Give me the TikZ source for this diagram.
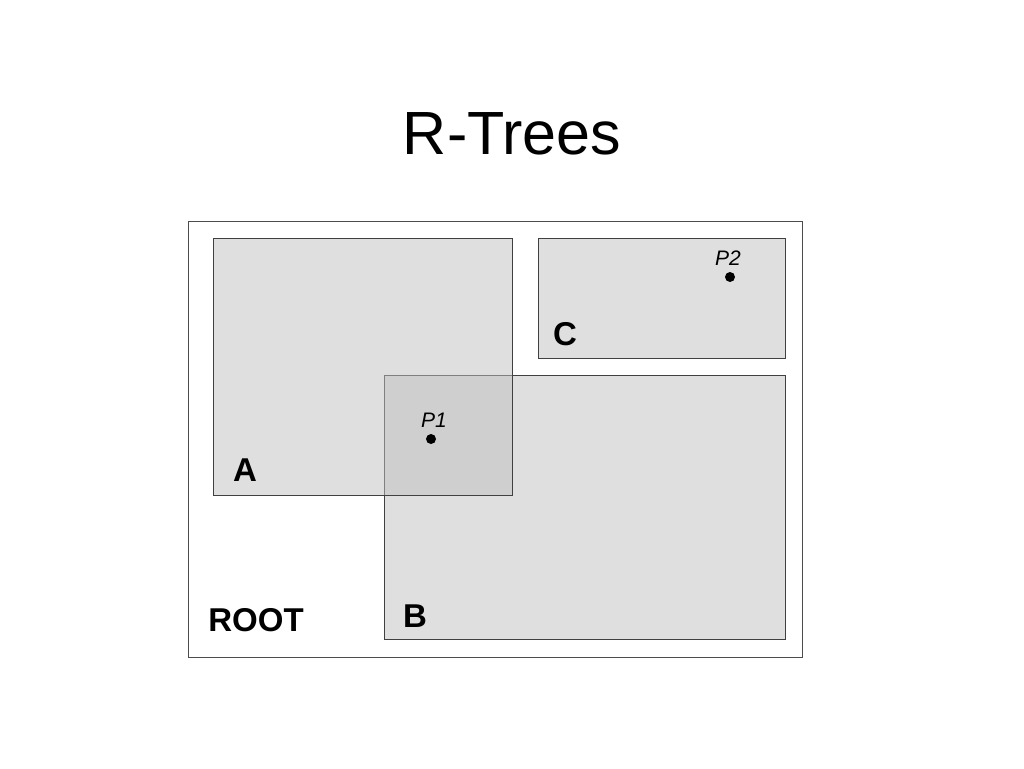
\documentclass[tikz,border=0pt]{standalone}
\usepackage{fontspec}
\setmainfont{Liberation Sans}
\begin{document}
\begin{tikzpicture}[x=1pt,y=-1pt,
  region/.style={draw=black!75,line width=0.9pt,fill=black!25,fill opacity=0.5},
  outer/.style={draw=black!70,line width=0.9pt},
  lbl/.style={font=\fontsize{33}{36}\selectfont\bfseries,inner sep=0pt},
  ptlbl/.style={font=\fontsize{21}{23}\selectfont\itshape,inner sep=0pt},
  pt/.style={circle,fill=black,inner sep=0pt,minimum size=10pt}]
\useasboundingbox (0,0) rectangle (1024,768);
\node[font=\fontsize{61}{66}\selectfont,inner sep=0pt] (title) at (512,134) {R-Trees};
\draw[outer] (188,221) rectangle (802,657);
\draw[region] (384,375) rectangle (785,639);
\draw[region] (213,238) rectangle (512,495);
\draw[region] (538,238) rectangle (785,358);
\node[lbl] (A) at (245,470) {A};
\node[lbl] (B) at (415,616) {B};
\node[lbl] (C) at (565,334) {C};
\node[lbl] (root) at (256,620) {ROOT};
\node[pt] (p1) at (431,439) {};
\node[ptlbl] (p1l) at (434,420) {P1};
\node[pt] (p2) at (730,277) {};
\node[ptlbl] (p2l) at (728,258) {P2};
\end{tikzpicture}
\end{document}
